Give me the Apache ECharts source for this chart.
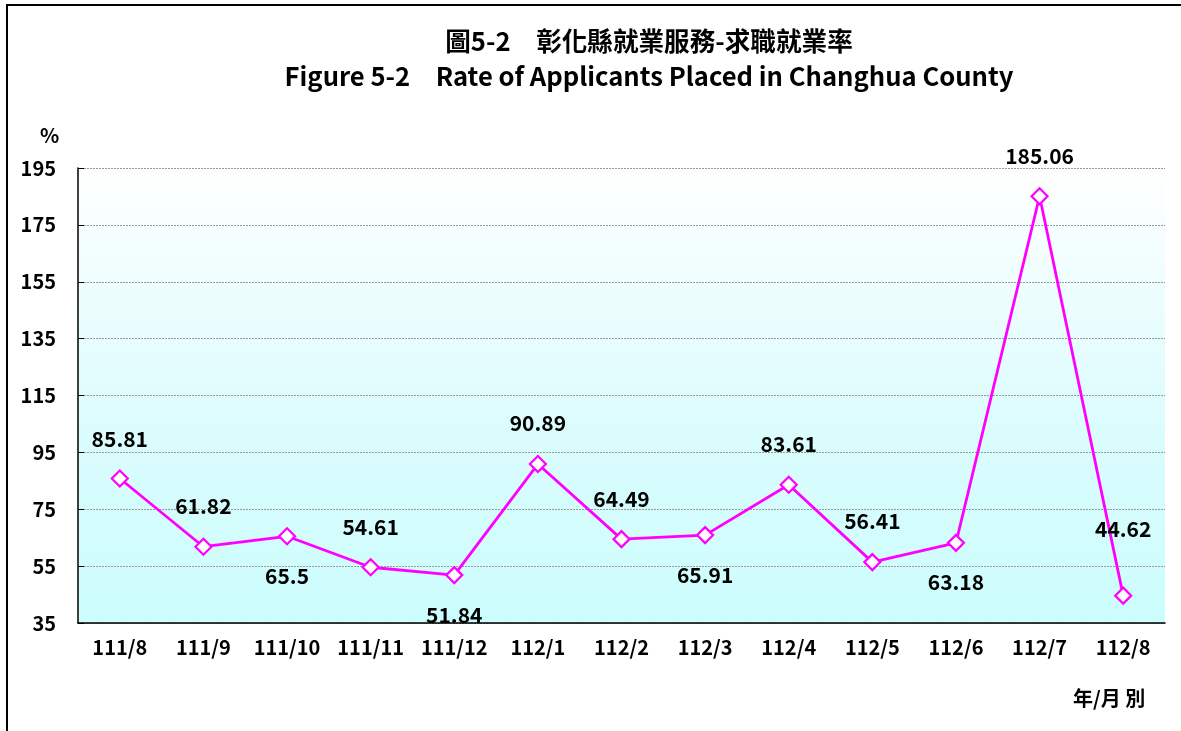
<!DOCTYPE html>
<html><head><meta charset="utf-8">
<script src="https://cdn.jsdelivr.net/npm/echarts@6/dist/echarts.min.js"></script>
<style>html,body{margin:0;padding:0;background:#fff}#c{width:1181px;height:731px}</style>
</head><body><div id="c"></div>
<script>
const categories = ['111/8','111/9','111/10','111/11','111/12','112/1','112/2','112/3','112/4','112/5','112/6','112/7','112/8'];
const rates = [85.81, 61.82, 65.5, 54.61, 51.84, 90.89, 64.49, 65.91, 83.61, 56.41, 63.18, 185.06, 44.62];
const yTicks = [35, 55, 75, 95, 115, 135, 155, 175, 195];
const labelPlace = ['top','top','bottom','top','bottom','top','top','bottom','top','top','bottom','top','top'];
const labelDist = [20,21,20,21,20,21,21,20,21,21,20,21,47];

const FONT = '"Noto Sans CJK TC","Noto Sans",sans-serif';
const W = 'bold';
const chart = echarts.init(document.getElementById('c'), null, {renderer:'canvas'});
chart.setOption({
  animation:false,
  backgroundColor:'#fff',
  title:[
    {text:'圖5-2　彰化縣就業服務-求職就業率', left:644, top:23, textAlign:'center',
     textStyle:{fontFamily:FONT, fontSize:25.6, fontWeight:W, color:'#000'}},
    {text:'Figure 5-2　Rate of Applicants Placed in Changhua County', left:644, top:58, textAlign:'center',
     textStyle:{fontFamily:FONT, fontSize:25.6, fontWeight:W, color:'#000'}}
  ],
  graphic:[
    {type:'polyline', shape:{points:[[7,740],[7,5],[1190,5]]}, style:{stroke:'#000', lineWidth:2, fill:null}},
    {type:'text', left:40, top:125, style:{text:'%', font:W+' 20px '+FONT, fill:'#000'}},
    {type:'text', left:1073, top:688, style:{text:'年/月 別', font:W+' 20px '+FONT, fill:'#000'}}
  ],
  grid:{left:78, right:16, top:168, bottom:108, show:true, borderWidth:0,
    backgroundColor:new echarts.graphic.LinearGradient(0,0,0,1,[
      {offset:0,color:'#ffffff'},{offset:0.55,color:'#dcfcfd'},{offset:1,color:'#ccfdfd'}])},
  xAxis:{type:'category', data:categories, boundaryGap:true,
    axisLine:{lineStyle:{color:'#000', width:1.5}},
    axisTick:{inside:true, length:6, lineStyle:{color:'#000'}},
    axisLabel:{interval:0, fontFamily:FONT, fontSize:20, fontWeight:W, color:'#000', margin:14}},
  yAxis:{type:'value', min:35, max:195, interval:20,
    axisLine:{show:true, lineStyle:{color:'#000', width:1.5}},
    axisTick:{show:true, inside:true, length:6, lineStyle:{color:'#000'}},
    splitLine:{lineStyle:{color:'#999', type:[2,1], width:1}},
    axisLabel:{fontFamily:FONT, fontSize:20, fontWeight:W, color:'#000', margin:22,
      formatter:v=>yTicks.includes(v)?String(v):''}},
  series:[{type:'line', data:rates.map((v,i)=>({value:v, label:{position:labelPlace[i], distance:labelDist[i]}})),
    symbol:'diamond', symbolSize:16,
    lineStyle:{color:'#ff00ff', width:2.8},
    itemStyle:{color:'#fff', borderColor:'#ff00ff', borderWidth:2.2},
    label:{show:true, fontFamily:FONT, fontSize:21, fontWeight:W, color:'#000'}}]
});
</script></body></html>
